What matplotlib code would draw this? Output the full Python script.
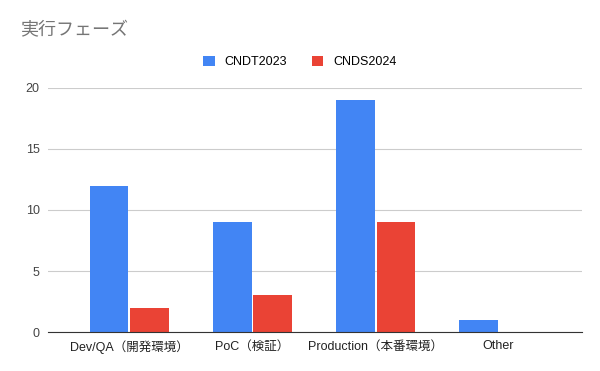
import numpy as np
import matplotlib.pyplot as plt

plt.rcParams['font.family'] = ['Liberation Sans', 'Noto Sans CJK JP', 'DejaVu Sans']

# データ
categories = ['Dev/QA（開発環境）', 'PoC（検証）', 'Production（本番環境）', 'Other']
cndt2023 = [12, 9, 19, 1]
cnds2024 = [2, 3, 9, 0]
series_names = ['CNDT2023', 'CNDS2024']
colors = ['#4285F4', '#EA4335']

fig = plt.figure(figsize=(6, 3.71), dpi=100)
ax = fig.add_axes([0.08, 0.105, 0.89, 0.658])

x = np.arange(len(categories))
w = 0.31
ax.bar(x - w / 2 - 0.008, cndt2023, w, color=colors[0], label=series_names[0], zorder=3)
ax.bar(x + w / 2 + 0.008, cnds2024, w, color=colors[1], label=series_names[1], zorder=3)

ax.set_xlim(-0.662, 3.678)
ax.set_ylim(0, 20)
ax.set_yticks([0, 5, 10, 15, 20])
ax.set_xticks(x)
ax.set_xticklabels(categories, fontsize=9, color='#222222')
ax.tick_params(axis='y', labelsize=9, labelcolor='#444444', length=0, pad=6)
ax.tick_params(axis='x', length=0, pad=6)
ax.grid(axis='y', color='#cccccc', linewidth=0.8, zorder=0)
for s in ['top', 'right', 'left']:
    ax.spines[s].set_visible(False)
ax.spines['bottom'].set_color('#333333')
ax.spines['bottom'].set_zorder(4)

fig.text(0.033, 0.918, '実行フェーズ', fontsize=13, color='#757575', va='center')
fig.legend(loc='center', bbox_to_anchor=(0.5, 0.833), ncol=2, frameon=False,
           fontsize=9, handlelength=0.9, handleheight=0.9, columnspacing=2.0,
           handletextpad=0.8)

fig.savefig('out.png', dpi=100)
